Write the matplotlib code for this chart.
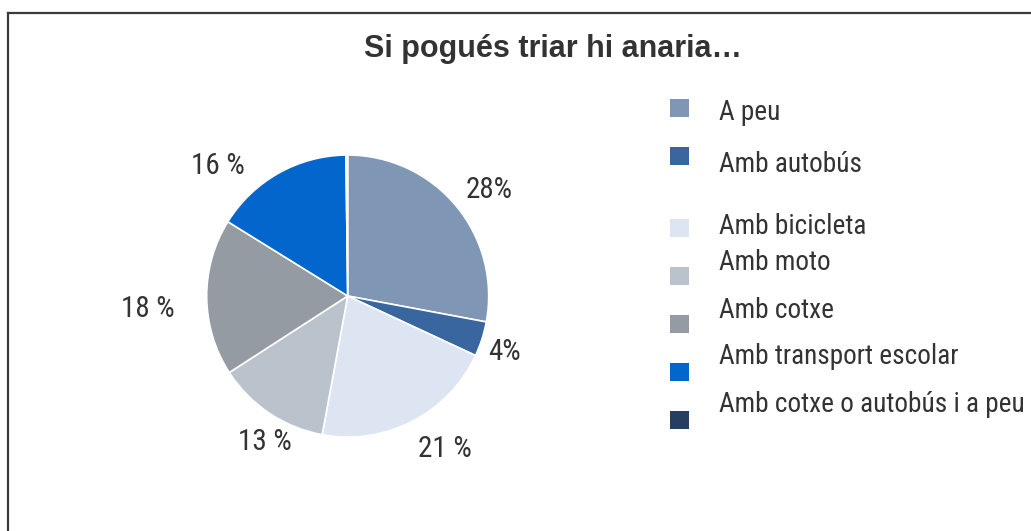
import matplotlib
matplotlib.use('Agg')
import matplotlib.pyplot as plt
from matplotlib import font_manager
from matplotlib.patches import Rectangle
from matplotlib.lines import Line2D

# Dades
categories = ['A peu', 'Amb autobús', 'Amb bicicleta', 'Amb moto', 'Amb cotxe',
              'Amb transport escolar', 'Amb cotxe o autobús i a peu']
valors = [28, 4, 21, 13, 18, 16, 0.2]
etiquetes = ['28%', '4%', '21 %', '13 %', '18 %', '16 %', '']
colors = ['#7F97B5', '#3A66A0', '#DCE5F1', '#BAC2CC', '#959BA3', '#0366CC', '#243F60']

noms = {f.name for f in font_manager.fontManager.ttflist}
estret = [f for f in ['Roboto Condensed', 'Liberation Sans', 'DejaVu Sans'] if f in noms]
normal = [f for f in ['Liberation Sans', 'DejaVu Sans'] if f in noms]

W, H = 1031, 531
fig = plt.figure(figsize=(W / 100, H / 100), dpi=100)

# Marc
fig.add_artist(Line2D([8 / W, 1], [1 - 13 / H, 1 - 13 / H], color='#3a3a3a', lw=1.6))
fig.add_artist(Line2D([8 / W, 8 / W], [1 - 13 / H, 0], color='#3a3a3a', lw=1.6))

# Pastís
cx, cy, r = 347.7, 296, 141
ax = fig.add_axes([(cx - r) / W, 1 - (cy + r) / H, 2 * r / W, 2 * r / H])
ax.pie(valors, colors=colors, startangle=90, counterclock=False,
       wedgeprops=dict(edgecolor='white', linewidth=1.2))
ax.set_xlim(-1, 1)
ax.set_ylim(-1, 1)
ax.set_aspect('equal')
ax.axis('off')

pos_etiq = [(1.00, 0.75), (1.11, -0.40), (0.69, -1.085), (-0.59, -1.035),
            (-1.42, -0.09), (-0.92, 0.92), (0, 0)]
for txt, (x, y) in zip(etiquetes, pos_etiq):
    if txt:
        ax.text(x, y, txt, ha='center', va='center', fontsize=21,
                color='#333333', family=estret, clip_on=False)

# Títol
fig.text(553.5 / W, 1 - 49 / H, 'Si pogués triar hi anaria…', ha='center', va='center',
         fontsize=22, fontweight='bold', color='#333333', family=normal)

# Llegenda
quad_y = [108, 156, 228, 276, 324, 372, 420]
text_y = [113, 165, 227, 262, 310, 357, 405]
for cat, col, qy, ty in zip(categories, colors, quad_y, text_y):
    fig.add_artist(Rectangle((670 / W, 1 - (qy + 9) / H), 19 / W, 18 / H,
                             facecolor=col, edgecolor='none'))
    fig.text(719 / W, 1 - ty / H, cat, ha='left', va='center', fontsize=19.6,
             color='#333333', family=estret)

plt.savefig('out.png', dpi=100)
